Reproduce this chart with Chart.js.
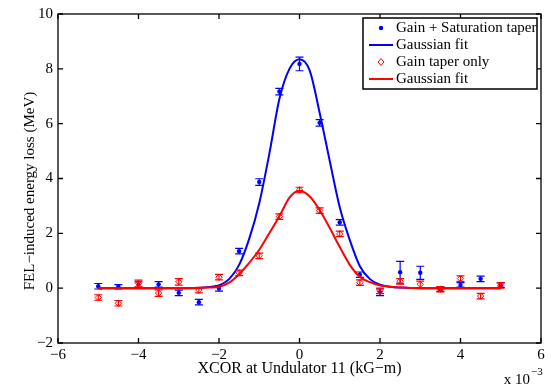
<!DOCTYPE html>
<html>
<head>
<meta charset="utf-8">
<script src="https://cdn.jsdelivr.net/npm/chart.js@4.4.1/dist/chart.umd.min.js"></script>
<style>
  html, body { margin: 0; padding: 0; background: #fff; }
</style>
</head>
<body>
<canvas id="myChart" width="551" height="388"></canvas>
<script>
// XCOR settings (x 10^-3 kG-m)
const xcor = [-5, -4.5, -4, -3.5, -3, -2.5, -2, -1.5, -1, -0.5, 0, 0.5, 1, 1.5, 2, 2.5, 3, 3.5, 4, 4.5, 5];

// measured energy loss (MeV)
const gainSat = [0.07, 0.05, 0.13, 0.14, -0.17, -0.51, -0.01, 1.35, 3.87, 7.17, 8.18, 6.03, 2.40, 0.49, -0.15, 0.58, 0.56, -0.04, 0.12, 0.34, 0.11];
const gainSatErr = [0.1, 0.08, 0.1, 0.1, 0.1, 0.1, 0.1, 0.1, 0.12, 0.12, 0.25, 0.12, 0.1, 0.1, 0.12, 0.4, 0.24, 0.08, 0.08, 0.1, 0.08];
const gainOnly = [-0.34, -0.55, 0.17, -0.18, 0.23, -0.07, 0.40, 0.56, 1.18, 2.61, 3.58, 2.83, 1.98, 0.20, -0.1, 0.25, 0.14, -0.04, 0.35, -0.29, 0.1];
const gainOnlyErr = [0.1, 0.1, 0.12, 0.12, 0.12, 0.1, 0.1, 0.1, 0.1, 0.1, 0.1, 0.1, 0.1, 0.1, 0.1, 0.1, 0.12, 0.1, 0.1, 0.1, 0.1];

// gaussian fit curves
const fitX = [-5, -3, -2.75, -2.5, -2.25, -2, -1.75, -1.5, -1.25, -1, -0.75, -0.5, -0.25, 0, 0.25, 0.5, 0.75, 1, 1.25, 1.5, 1.75, 2, 2.25, 2.5, 2.75, 3, 5];
const gainSatFit = [0, 0, 0, 0.01, 0.04, 0.1, 0.33, 0.85, 1.8, 3.1, 4.9, 6.9, 8.0, 8.35, 7.95, 6.4, 4.65, 2.95, 1.75, 0.8, 0.33, 0.13, 0.05, 0.02, 0.01, 0, 0];
const gainOnlyFit = [0, 0, 0, 0.01, 0.02, 0.05, 0.2, 0.51, 0.92, 1.4, 2.0, 2.62, 3.3, 3.55, 3.35, 2.85, 2.2, 1.5, 0.85, 0.41, 0.22, 0.1, 0.05, 0.02, 0.01, 0, 0];

const xTicks = [-6, -4, -2, 0, 2, 4, 6];
const yTicks = [-2, 0, 2, 4, 6, 8, 10];

const BLUE = "#0000ff";
const RED = "#ff0000";
const FONT = "'Liberation Serif', 'Times New Roman', serif";

const pts = (xs, ys) => xs.map((x, i) => ({ x: x, y: ys[i] }));
const fmt = (v) => (v < 0 ? "\u2212" + Math.abs(v) : String(v));

const errorBars = {
    id: "errorBars",
    afterDatasetDraw(chart, args) {
        const ds = chart.data.datasets[args.index];
        if (!ds.errors) return;
        const { ctx, scales: { x, y } } = chart;
        ctx.save();
        ctx.strokeStyle = ds.borderColor;
        ctx.lineWidth = 1.2;
        ds.data.forEach((p, i) => {
            const px = x.getPixelForValue(p.x);
            const top = y.getPixelForValue(p.y + ds.errors[i]);
            const bot = y.getPixelForValue(p.y - ds.errors[i]);
            ctx.beginPath();
            ctx.moveTo(px, top); ctx.lineTo(px, bot);
            ctx.moveTo(px - 4, top); ctx.lineTo(px + 4, top);
            ctx.moveTo(px - 4, bot); ctx.lineTo(px + 4, bot);
            ctx.stroke();
        });
        ctx.restore();
    }
};

const axesBox = {
    id: "axesBox",
    afterDatasetsDraw(chart) {
        const { ctx, chartArea: a, scales: { x, y } } = chart;
        ctx.save();
        ctx.strokeStyle = "#000";
        ctx.lineWidth = 1.3;
        ctx.strokeRect(a.left, a.top, a.right - a.left, a.bottom - a.top);
        ctx.beginPath();
        xTicks.forEach((v) => {
            const px = x.getPixelForValue(v);
            ctx.moveTo(px, a.bottom); ctx.lineTo(px, a.bottom - 5);
            ctx.moveTo(px, a.top); ctx.lineTo(px, a.top + 5);
        });
        yTicks.forEach((v) => {
            const py = y.getPixelForValue(v);
            ctx.moveTo(a.left, py); ctx.lineTo(a.left + 5, py);
            ctx.moveTo(a.right, py); ctx.lineTo(a.right - 5, py);
        });
        ctx.stroke();
        ctx.fillStyle = "#000";
        // y axis label
        ctx.save();
        ctx.translate(30, 191);
        ctx.rotate(-Math.PI / 2);
        ctx.textAlign = "center";
        ctx.textBaseline = "middle";
        ctx.font = "15px " + FONT;
        ctx.fillText("FEL\u2212induced energy loss (MeV)", 0, 0);
        ctx.restore();
        // exponent label
        ctx.textBaseline = "alphabetic";
        ctx.textAlign = "right";
        ctx.font = "15px " + FONT;
        ctx.fillText("x 10", a.right - 11, 384);
        ctx.textAlign = "left";
        ctx.font = "11px " + FONT;
        ctx.fillText("\u22123", a.right - 10, 375);
        ctx.restore();
    }
};

const legendBox = {
    id: "legendBox",
    afterDraw(chart) {
        const { ctx, chartArea: a } = chart;
        const w = 174, h = 71;
        const x0 = a.right - 4 - w, y0 = a.top + 4;
        ctx.save();
        ctx.fillStyle = "#fff";
        ctx.fillRect(x0, y0, w, h);
        ctx.strokeStyle = "#000";
        ctx.lineWidth = 1.5;
        ctx.strokeRect(x0, y0, w, h);
        ctx.font = "15px " + FONT;
        ctx.textBaseline = "middle";
        chart.data.datasets.forEach((ds, i) => {
            const ry = y0 + 10 + i * 17;
            if (ds.showLine) {
                ctx.strokeStyle = ds.borderColor;
                ctx.lineWidth = 2;
                ctx.beginPath();
                ctx.moveTo(x0 + 6, ry); ctx.lineTo(x0 + 30, ry);
                ctx.stroke();
            } else if (ds.pointStyle === "rectRot") {
                ctx.strokeStyle = ds.borderColor;
                ctx.lineWidth = 1;
                ctx.beginPath();
                ctx.moveTo(x0 + 18, ry - 3.5); ctx.lineTo(x0 + 21, ry);
                ctx.lineTo(x0 + 18, ry + 3.5); ctx.lineTo(x0 + 15, ry);
                ctx.closePath();
                ctx.stroke();
            } else {
                ctx.fillStyle = ds.borderColor;
                ctx.beginPath();
                ctx.arc(x0 + 18, ry, 2.2, 0, Math.PI * 2);
                ctx.fill();
            }
            ctx.fillStyle = "#000";
            ctx.fillText(ds.label, x0 + 33, ry);
        });
        ctx.restore();
    }
};

const data = {
    datasets: [
        {
            label: "Gain + Saturation taper",
            data: pts(xcor, gainSat),
            errors: gainSatErr,
            showLine: false,
            pointStyle: "circle",
            pointRadius: 2.2,
            backgroundColor: BLUE,
            borderColor: BLUE,
            borderWidth: 0,
            order: 4
        },
        {
            label: "Gaussian fit",
            data: pts(fitX, gainSatFit),
            showLine: true,
            pointRadius: 0,
            borderColor: BLUE,
            borderWidth: 2,
            cubicInterpolationMode: "monotone",
            order: 3
        },
        {
            label: "Gain taper only",
            data: pts(xcor, gainOnly),
            errors: gainOnlyErr,
            showLine: false,
            pointStyle: "rectRot",
            pointRadius: 3.2,
            backgroundColor: "rgba(0,0,0,0)",
            borderColor: RED,
            borderWidth: 1,
            order: 2
        },
        {
            label: "Gaussian fit",
            data: pts(fitX, gainOnlyFit),
            showLine: true,
            pointRadius: 0,
            borderColor: RED,
            borderWidth: 2,
            cubicInterpolationMode: "monotone",
            order: 1
        }
    ]
};

const config = {
    type: "scatter",
    data: data,
    options: {
        responsive: false,
        animation: false,
        layout: { padding: { top: 12, right: 10, left: 0, bottom: 0 } },
        plugins: {
            legend: { display: false },
            tooltip: { enabled: false }
        },
        scales: {
            x: {
                type: "linear",
                min: -6,
                max: 6,
                afterBuildTicks: (scale) => { scale.ticks = xTicks.map((v) => ({ value: v })); },
                afterFit: (scale) => { scale.height = 45; },
                grid: { display: false, drawTicks: false },
                border: { display: false },
                ticks: {
                    color: "#000",
                    padding: 3,
                    font: { family: FONT, size: 15 },
                    callback: (v) => fmt(v)
                },
                title: {
                    display: true,
                    text: "XCOR at Undulator 11 (kG\u2212m)",
                    color: "#000",
                    font: { family: FONT, size: 16 },
                    padding: { top: 0, bottom: 10 }
                }
            },
            y: {
                type: "linear",
                min: -2,
                max: 10,
                afterBuildTicks: (scale) => { scale.ticks = yTicks.map((v) => ({ value: v })); },
                afterFit: (scale) => { scale.width = 58; },
                grid: { display: false, drawTicks: false },
                border: { display: false },
                ticks: {
                    color: "#000",
                    padding: 5,
                    font: { family: FONT, size: 15 },
                    callback: (v) => fmt(v)
                }
            }
        }
    },
    plugins: [errorBars, axesBox, legendBox]
};

const myChart = new Chart(document.getElementById("myChart").getContext("2d"), config);
</script>
</body>
</html>
